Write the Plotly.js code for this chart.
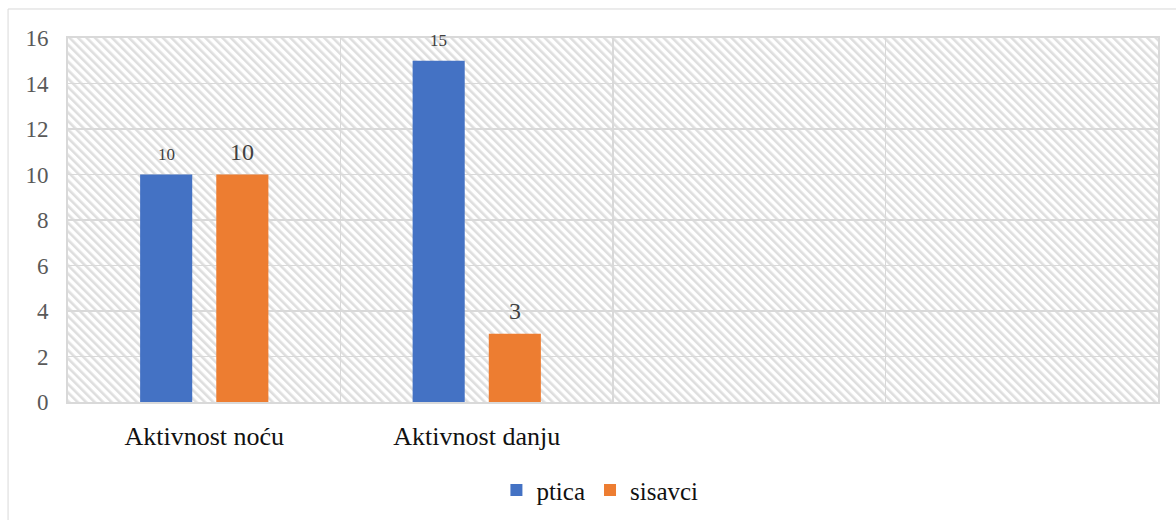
<!DOCTYPE html>
<html>
<head>
<meta charset="utf-8">
<script src="https://cdn.plot.ly/plotly-3.0.1.min.js"></script>
<style>html,body{margin:0;padding:0;background:#fff;}#chart{width:1176px;height:520px;}</style>
</head>
<body>
<div id="chart"></div>
<script>
const categories = ["Aktivnost noću", "Aktivnost danju", " ", "  "];
const seriesNames = ["ptica", "sisavci"];
const pticaValues = [10, 15, null, null];
const sisavciValues = [10, 3, null, null];
const yTicks = [0, 2, 4, 6, 8, 10, 12, 14, 16];

const SERIF = '"Liberation Serif", "Times New Roman", serif';

const hatchSvg = '<svg xmlns="http://www.w3.org/2000/svg" width="1090" height="364">' +
  '<defs><pattern id="p" width="6" height="6" patternUnits="userSpaceOnUse" patternTransform="rotate(-45)">' +
  '<rect width="6" height="6" fill="#ffffff"/><rect width="2.6" height="6" fill="#dedede"/></pattern></defs>' +
  '<rect width="1090" height="364" fill="url(#p)"/></svg>';
const hatchUri = 'data:image/svg+xml;base64,' + btoa(hatchSvg);

const traces = [
  {type: 'bar', name: seriesNames[0], x: categories, y: pticaValues, marker: {color: '#4472C4'}},
  {type: 'bar', name: seriesNames[1], x: categories, y: sisavciValues, marker: {color: '#ED7D31'}}
];

// data labels built from the series arrays
const labelStyle = [
  {vals: pticaValues, xshift: -38, yshift: 20, size: 17},
  {vals: sisavciValues, xshift: 38, yshift: 23, size: 24}
];
const annotations = [];
labelStyle.forEach(s => {
  s.vals.forEach((v, i) => {
    if (v == null) return;
    annotations.push({
      x: categories[i], y: v, xref: 'x', yref: 'y', text: String(v), showarrow: false,
      xshift: s.xshift, yshift: s.yshift, xanchor: 'center', yanchor: 'middle',
      font: {family: SERIF, size: s.size, color: '#404040'}
    });
  });
});

const layout = {
  width: 1176, height: 520,
  margin: {l: 68, r: 18, t: 38, b: 118, autoexpand: false},
  paper_bgcolor: '#ffffff', plot_bgcolor: 'rgba(0,0,0,0)',
  barmode: 'group', bargap: 0.441, bargroupgap: 0.316,
  font: {family: SERIF, color: '#595959'},
  showlegend: true,
  legend: {orientation: 'h', x: 0.488, xanchor: 'center', y: -0.179, yanchor: 'top',
           font: {family: SERIF, size: 25, color: '#111111'}, traceorder: 'normal'},
  xaxis: {
    type: 'category', tickson: 'boundaries', showgrid: true, gridcolor: '#d9d9d9', gridwidth: 1.5,
    showline: true, linecolor: '#d9d9d9', linewidth: 2, mirror: true,
    ticks: '', ticklabelstandoff: 10, automargin: false,
    tickfont: {family: SERIF, size: 26, color: '#111111'},
    fixedrange: true
  },
  yaxis: {
    range: [0, 16], tickvals: yTicks, showgrid: true, gridcolor: '#d9d9d9', gridwidth: 1.5,
    showline: true, linecolor: '#d9d9d9', linewidth: 2, mirror: true, zeroline: false,
    ticks: '', ticklabelstandoff: 13, automargin: false,
    tickfont: {family: SERIF, size: 23, color: '#595959'},
    fixedrange: true
  },
  annotations: annotations,
  images: [{source: hatchUri, xref: 'paper', yref: 'paper', x: 0, y: 1, sizex: 1, sizey: 1,
            xanchor: 'left', yanchor: 'top', sizing: 'stretch', layer: 'below'}],
  shapes: [{type: 'rect', xref: 'paper', yref: 'paper', x0: -0.055, x1: 1.05, y0: -0.36, y1: 1.0797,
            line: {color: '#d9d9d9', width: 1}, fillcolor: 'rgba(0,0,0,0)', layer: 'below'}]
};

Plotly.newPlot('chart', traces, layout, {displayModeBar: false, staticPlot: true});
</script>
</body>
</html>
